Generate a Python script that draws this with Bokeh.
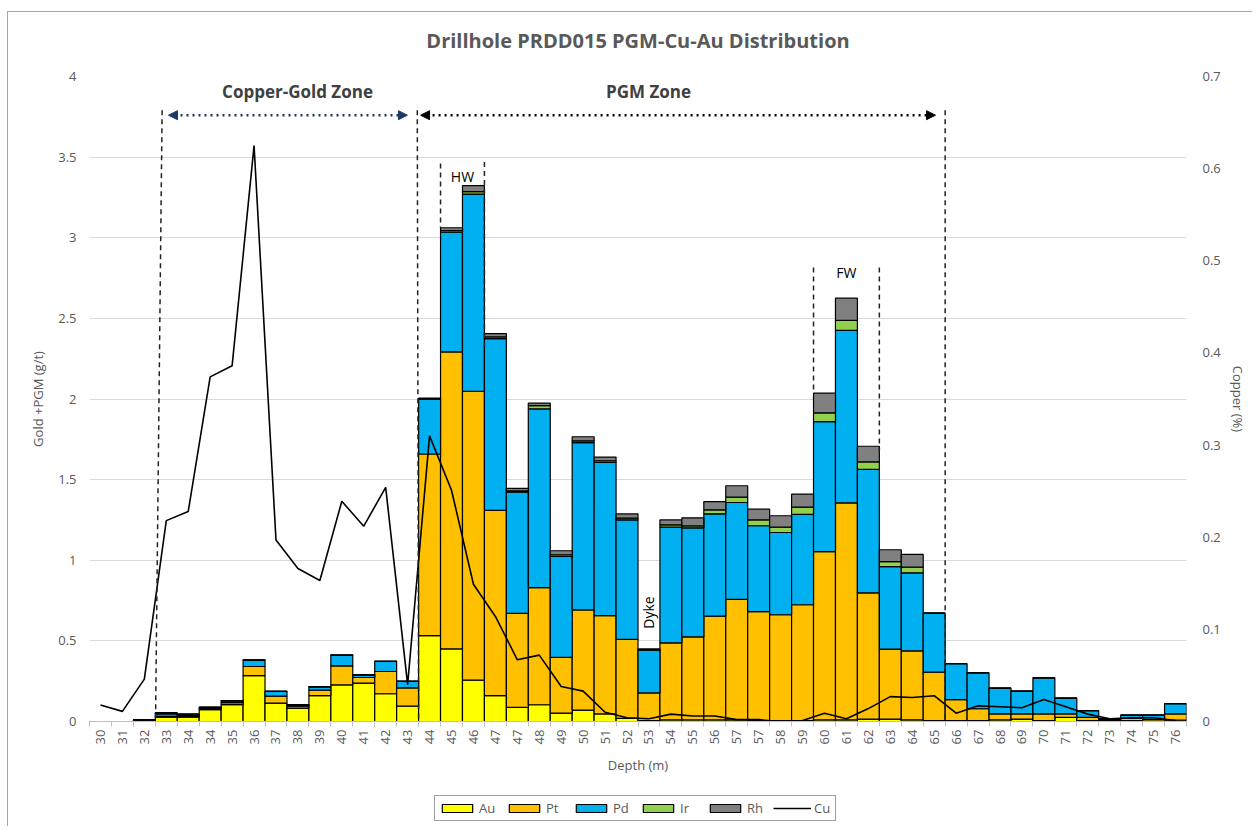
import math
from bokeh.plotting import figure
from bokeh.layouts import column
from bokeh.models import (ColumnDataSource, Range1d, LinearAxis, FixedTicker,
                          NumeralTickFormatter, Legend, LegendItem, Label, Arrow, NormalHead)
from bokeh.embed import file_html
from bokeh.resources import INLINE

# ---------------- data ----------------
depth_labels = ["30", "31", "32", "33", "34", "34", "35", "36", "37", "38", "39", "40", "41", "42",
                "43", "44", "45", "46", "47", "47", "48", "49", "50", "51", "52", "53", "54", "55",
                "56", "57", "57", "58", "59", "60", "61", "62", "63", "64", "65", "66", "67", "68",
                "69", "70", "71", "72", "73", "74", "75", "76"]

au = [0, 0, 0.008, 0.027, 0.027, 0.074, 0.105, 0.285, 0.114, 0.083, 0.161, 0.227, 0.238, 0.172,
      0.095, 0.533, 0.45, 0.256, 0.161, 0.088, 0.104, 0.052, 0.071, 0.047, 0.019, 0.005, 0.01, 0.01,
      0.01, 0.01, 0.005, 0.005, 0.005, 0.01, 0.01, 0.015, 0.015, 0.01, 0.005, 0.005, 0.005, 0.01,
      0.015, 0.005, 0.025, 0.005, 0.003, 0.005, 0.003, 0.008]
pt = [0, 0, 0.002, 0.005, 0.008, 0.008, 0.012, 0.056, 0.043, 0.012, 0.033, 0.118, 0.035, 0.138,
      0.114, 1.126, 1.842, 1.792, 1.148, 0.582, 0.726, 0.346, 0.621, 0.609, 0.49, 0.172, 0.478, 0.515,
      0.643, 0.747, 0.677, 0.657, 0.719, 1.044, 1.346, 0.783, 0.434, 0.428, 0.301, 0.131, 0.074, 0.037,
      0.032, 0.042, 0.022, 0.02, 0.007, 0.015, 0.01, 0.039]
pd_ = [0, 0, 0, 0.015, 0.008, 0.005, 0.01, 0.04, 0.029, 0.008, 0.02, 0.066, 0.015, 0.062,
       0.04, 0.34, 0.742, 1.223, 1.066, 0.752, 1.109, 0.626, 1.038, 0.951, 0.742, 0.265, 0.717, 0.676,
       0.635, 0.601, 0.532, 0.51, 0.56, 0.806, 1.069, 0.765, 0.512, 0.484, 0.366, 0.222, 0.223, 0.16,
       0.141, 0.224, 0.098, 0.043, 0.008, 0.019, 0.026, 0.063]
ir = [0, 0, 0, 0.003, 0.002, 0.001, 0.002, 0.001, 0.001, 0.001, 0.001, 0.001, 0.001, 0.001,
      0, 0.002, 0.01, 0.015, 0.01, 0.008, 0.02, 0.01, 0.01, 0.01, 0.01, 0.003, 0.015, 0.012,
      0.025, 0.033, 0.037, 0.033, 0.045, 0.054, 0.062, 0.047, 0.031, 0.035, 0, 0, 0, 0,
      0, 0, 0, 0, 0, 0, 0, 0]
rh = [0, 0, 0, 0.005, 0.003, 0.001, 0.001, 0.001, 0.001, 0.001, 0.002, 0.001, 0.002, 0.001,
      0.001, 0.004, 0.018, 0.037, 0.021, 0.016, 0.016, 0.025, 0.026, 0.023, 0.026, 0.005, 0.03, 0.05,
      0.051, 0.071, 0.066, 0.071, 0.081, 0.122, 0.138, 0.097, 0.073, 0.079, 0, 0, 0, 0,
      0, 0, 0, 0, 0, 0, 0, 0]
cu = [0.018, 0.011, 0.046, 0.218, 0.228, 0.374, 0.386, 0.625, 0.197, 0.166, 0.153, 0.239, 0.212, 0.254,
      0.040, 0.310, 0.251, 0.149, 0.114, 0.067, 0.072, 0.038, 0.033, 0.010, 0.004, 0.003, 0.008, 0.006,
      0.006, 0.002, 0.002, 0.0, 0.001, 0.009, 0.003, 0.014, 0.027, 0.026, 0.028, 0.009, 0.017, 0.016,
      0.015, 0.024, 0.016, 0.008, 0.003, 0.004, 0.004, 0.001]

series = ["Au", "Pt", "Pd", "Ir", "Rh"]
colors = ["#FFFF00", "#FFC000", "#00B0F0", "#92D050", "#808080"]
y_ticks = [0, 0.5, 1, 1.5, 2, 2.5, 3, 3.5, 4]
cu_ticks = [0, 0.1, 0.2, 0.3, 0.4, 0.5, 0.6, 0.7]
title_text = "Drillhole PRDD015 PGM-Cu-Au Distribution"

FONT = "Open Sans"
GREY = "#595959"
W = 1244

n = len(depth_labels)
xs = list(range(n))
src = ColumnDataSource(dict(x=xs, Au=au, Pt=pt, Pd=pd_, Ir=ir, Rh=rh, Cu=cu))


def strip(height, xr, yr):
    f = figure(width=W, height=height, output_backend="svg", toolbar_location=None,
               x_range=xr, y_range=yr, x_axis_location=None, y_axis_location=None,
               min_border_left=0, min_border_right=0, min_border_top=0, min_border_bottom=0)
    f.outline_line_color = None
    f.xgrid.visible = False
    f.ygrid.visible = False
    return f


# ------------- title strip -------------
ptitle = strip(46, Range1d(0, 1), Range1d(0, 46))
ptitle.add_layout(Label(x=0.5, y=18, text=title_text, text_align="center", text_baseline="middle",
                        text_font=FONT, text_font_size="20px", text_font_style="bold",
                        text_color=GREY))

# ------------- main chart -------------
p = figure(width=W, height=730, output_backend="svg", toolbar_location=None,
           x_range=Range1d(-0.5, n - 0.5), y_range=Range1d(0, 4),
           min_border_left=81, min_border_right=66, min_border_top=18, min_border_bottom=67)
p.outline_line_color = None
p.background_fill_color = "white"
p.border_fill_color = "white"

p.xgrid.visible = False
p.ygrid.grid_line_color = "#d9d9d9"
p.ygrid.grid_line_width = 1
p.ygrid.ticker = FixedTicker(ticks=y_ticks)

p.extra_y_ranges = {"cu": Range1d(0, 0.7)}

# bars
bar_r = p.vbar_stack(series, x="x", width=1.0, source=src, fill_color=colors,
                     line_color="black", line_width=1.2)
# copper line
cu_r = p.line("x", "Cu", source=src, y_range_name="cu", line_color="black", line_width=1.6)

# axes
yax = p.yaxis[0]
yax.ticker = FixedTicker(ticks=y_ticks)
yax.formatter = NumeralTickFormatter(format="0.[0]")
yax.axis_label = "Gold +PGM (g/t)"

rax = LinearAxis(y_range_name="cu", ticker=FixedTicker(ticks=cu_ticks),
                 formatter=NumeralTickFormatter(format="0.[0]"), axis_label="Copper (%)")
p.add_layout(rax, "right")

for ax in [yax, rax]:
    ax.axis_line_color = None
    ax.major_tick_line_color = None
    ax.minor_tick_line_color = None
    ax.major_tick_out = 0
    ax.major_label_text_font = FONT
    ax.major_label_text_font_size = "13px"
    ax.major_label_text_color = GREY
    ax.axis_label_text_font = FONT
    ax.axis_label_text_font_size = "13px"
    ax.axis_label_text_font_style = "normal"
    ax.axis_label_text_color = GREY
yax.major_label_standoff = 13
yax.axis_label_standoff = 8
rax.major_label_standoff = 16
rax.axis_label_standoff = 5

xax = p.xaxis[0]
xax.ticker = FixedTicker(ticks=xs, minor_ticks=[i - 0.5 for i in range(n + 1)])
xax.major_label_overrides = {i: lab for i, lab in enumerate(depth_labels)}
xax.major_label_orientation = math.pi / 2
xax.major_tick_line_color = None
xax.major_tick_out = 0
xax.minor_tick_line_color = "#bfbfbf"
xax.minor_tick_in = 0
xax.minor_tick_out = 5
xax.axis_line_color = "#bfbfbf"
xax.major_label_standoff = 3
xax.major_label_text_font = FONT
xax.major_label_text_font_size = "13px"
xax.major_label_text_color = GREY
xax.axis_label = "Depth (m)"
xax.axis_label_text_font = FONT
xax.axis_label_text_font_size = "13px"
xax.axis_label_text_font_style = "normal"
xax.axis_label_text_color = GREY
xax.axis_label_standoff = 9

# ------------- annotations (layout only) -------------
DASH = "5 4"
zone_top = 3.79
p.segment(x0=[2.81, 14.44, 38.5], y0=[zone_top] * 3, x1=[2.51, 14.5, 38.5], y1=[0, 0, 0],
          line_color="#222222", line_width=1.5, line_dash=DASH)
p.segment(x0=[15.5, 17.5, 32.5, 35.5], y0=[3.46, 3.47, 2.815, 2.815],
          x1=[15.5, 17.5, 32.5, 35.5], y1=[3.06, 2.32, 2.04, 1.68],
          line_color="#222222", line_width=1.5, line_dash=DASH)

NAVY = "#1F3864"
p.add_layout(Arrow(start=NormalHead(size=9, fill_color=NAVY, line_color=NAVY),
                   end=NormalHead(size=9, fill_color=NAVY, line_color=NAVY),
                   x_start=3.1, y_start=3.76, x_end=13.99, y_end=3.76,
                   line_color=NAVY, line_width=2.5, line_dash="2 4"))
p.add_layout(Arrow(start=NormalHead(size=9, fill_color="black", line_color="black"),
                   end=NormalHead(size=9, fill_color="black", line_color="black"),
                   x_start=14.59, y_start=3.76, x_end=38.06, y_end=3.76,
                   line_color="black", line_width=2.5, line_dash="2 4"))

for txt, x, y in [("Copper-Gold Zone", 8.98, 3.909), ("PGM Zone", 24.98, 3.909)]:
    p.add_layout(Label(x=x, y=y, text=txt, text_align="center", text_baseline="middle",
                       text_font=FONT, text_font_size="17px", text_font_style="bold",
                       text_color="#404040"))
for txt, x, y in [("HW", 16.5, 3.378), ("FW", 34.0, 2.786)]:
    p.add_layout(Label(x=x, y=y, text=txt, text_align="center", text_baseline="middle",
                       text_font=FONT, text_font_size="14px", text_color="black"))
p.add_layout(Label(x=25, y=0.676, text="Dyke", angle=math.pi / 2, text_align="center",
                   text_baseline="middle", text_font=FONT, text_font_size="14px",
                   text_color="black"))

# ------------- legend strip below the chart -------------
# the strip's ranges lie far outside the data, so its renderers only feed the legend
pl = strip(38, Range1d(1000, 1001), Range1d(1000, 1001))
leg_items = []
for s, c in zip(series, colors):
    r = pl.vbar(x="x", top=s, width=1, source=src, fill_color=c, line_color="black",
                line_width=1.2)
    leg_items.append(LegendItem(label=s, renderers=[r]))
lr = pl.line("x", "Cu", source=src, line_color="black", line_width=1.6)
leg_items.append(LegendItem(label="Cu", renderers=[lr]))
legend = Legend(items=leg_items, orientation="horizontal", location=(345, 5),
                border_line_color="#404040", border_line_width=1,
                label_text_font=FONT, label_text_font_size="13px", label_text_color=GREY,
                glyph_width=38, glyph_height=10, spacing=8, padding=3, margin=0,
                label_standoff=3, label_width=18)
pl.add_layout(legend, "center")

layout = column(ptitle, p, pl, spacing=0)
layout.styles = {"margin-left": "7px", "margin-top": "11px",
                 "border-left": "1px solid #a6a6a6", "border-top": "1px solid #a6a6a6"}

open("out.html", "w").write(file_html(layout, INLINE))
